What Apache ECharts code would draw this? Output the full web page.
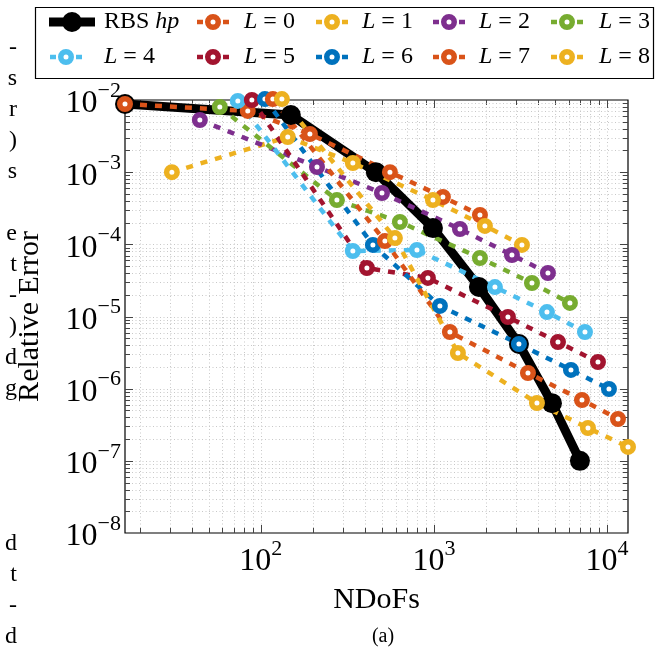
<!DOCTYPE html>
<html><head><meta charset="utf-8">
<script src="https://cdn.jsdelivr.net/npm/echarts@6/dist/echarts.min.js"></script>
<style>html,body{margin:0;padding:0;background:#fff}#c{width:668px;height:654px}</style>
</head><body><div id="c"></div>
<script>
// ---------------- data ----------------
const seriesNames = ['RBS hp', 'L = 0', 'L = 1', 'L = 2', 'L = 3', 'L = 4', 'L = 5', 'L = 6', 'L = 7', 'L = 8'];
const rbsX = [16.4, 149, 462, 987, 1820, 3100, 4810, 6980];
const rbsY = [8.8e-3, 6.2e-3, 1.0e-3, 1.68e-4, 2.56e-5, 4.16e-6, 6.3e-7, 1.0e-7];
const l0X = [16.4, 84, 192, 557, 1127, 1845];
const l0Y = [8.8e-3, 7.05e-3, 3.38e-3, 1.0e-3, 4.53e-4, 2.55e-4];
const l1X = [30.6, 143, 340, 987, 1971, 3226];
const l1Y = [1.0e-3, 3.07e-3, 1.34e-3, 4.11e-4, 1.80e-4, 9.8e-5];
const l2X = [44.4, 211, 501, 1414, 2824, 4560];
const l2Y = [5.28e-3, 1.18e-3, 5.14e-4, 1.63e-4, 7.12e-5, 4.01e-5];
const l3X = [57.9, 275, 636, 1845, 3686, 6110];
const l3Y = [8.0e-3, 4.11e-4, 2.04e-4, 6.47e-5, 2.91e-5, 1.54e-5];
const l4X = [73.6, 340, 798, 2252, 4500, 7462];
const l4Y = [9.7e-3, 8.09e-5, 8.35e-5, 2.56e-5, 1.15e-5, 6.10e-6];
const l5X = [88.7, 410, 923, 2677, 5211, 8872];
const l5Y = [1.0e-2, 4.70e-5, 3.42e-5, 9.84e-6, 4.43e-6, 2.34e-6];
const l6X = [105.5, 444, 1083, 3099, 6194, 10270];
const l6Y = [1.03e-2, 9.8e-5, 1.40e-5, 4.16e-6, 1.82e-6, 9.9e-7];
const l7X = [117.3, 521, 1237, 3495, 7170, 11580];
const l7Y = [1.03e-2, 1.11e-4, 6.10e-6, 1.65e-6, 6.97e-7, 3.80e-7];
const l8X = [132.3, 595, 1376, 3939, 7767, 13230];
const l8Y = [1.03e-2, 1.22e-4, 3.12e-6, 6.33e-7, 2.85e-7, 1.56e-7];

// tick labels (powers of ten) and minor multipliers
const xDecades = [1, 2, 3, 4];
const yDecades = [-8, -7, -6, -5, -4, -3, -2];
const minorMultipliers = [2, 3, 4, 5, 6, 7, 8, 9];
const yMin = 1e-8, yMax = 1e-2;

// left-margin text fragments of the surrounding page
const pageFragments = ['-', 's', 'r', ')', 's', 'e', 't', '-', ')', 'd', 'g', 'd', 't', '-', 'd'];

// ---------------- styles / layout ----------------
const FONT = '"Liberation Serif", "Times New Roman", serif';
const colors = ['#000000', '#D95319', '#EDB120', '#7E2F8E', '#77AC30', '#4DBEEE', '#A2142F', '#0072BD', '#D95319', '#EDB120'];
const xs = [rbsX, l0X, l1X, l2X, l3X, l4X, l5X, l6X, l7X, l8X];
const ys = [rbsY, l0Y, l1Y, l2Y, l3Y, l4Y, l5Y, l6Y, l7Y, l8Y];

const allX = [].concat(...xs);
const xMin = Math.min(...allX), xMax = Math.max(...allX);

const fragmentY = [48, 79, 110, 141, 172, 234, 265, 296, 327, 358, 389, 544, 575, 606, 637];
// legend layout: [ring/marker centre x, row, text start x]
const legendLayout = [[72, 0, 104], [213, 0, 244], [332, 0, 362], [449, 0, 479], [567, 0, 599],
                      [66, 1, 104], [213, 1, 244], [332, 1, 362], [449, 1, 479], [567, 1, 599]];
const rowCenter = [23, 58];

const ringIcon = 'path://M0,5.75H6V10.25H0Z M26,5.75H32V10.25H26Z M16,0A8,8 0 1,1 16,16A8,8 0 1,1 16,0Z M16,5.5A2.5,2.5 0 1,0 16,10.5A2.5,2.5 0 1,0 16,5.5Z';
const rbsIcon = 'path://M0,5.5H46V14.5H0Z M23,0A10,10 0 1,1 23,20A10,10 0 1,1 23,0Z';

// ---------------- build series ----------------
const dataSeries = seriesNames.map((name, i) => {
  const data = xs[i].map((x, j) => [x, ys[i][j]]);
  if (i === 0) {
    return { name, type: 'line', data, clip: false, symbol: 'circle', symbolSize: 20,
      lineStyle: { color: '#000', width: 9 }, itemStyle: { color: '#000' }, z: 3 };
  }
  return { name, type: 'line', data, clip: false, symbol: 'circle', symbolSize: 10.5,
    lineStyle: { color: colors[i], width: 4.5, type: [7, 8] },
    itemStyle: { color: '#ffffff', borderColor: colors[i], borderWidth: 5.5 }, z: 3 };
});

const xGridData = [];
xDecades.forEach(e => [1].concat(minorMultipliers).forEach(m => {
  const v = m * Math.pow(10, e);
  if (v > xMin * 1.0001 && v < xMax * 0.9999) xGridData.push([v, 1e-5, m === 1 ? 1 : 0]);
}));
const yGridData = [];
yDecades.forEach(e => [1].concat(minorMultipliers).forEach(m => {
  const v = m * Math.pow(10, e);
  if (v > yMin * 1.0001 && v < yMax * 0.9999) yGridData.push([1000, v, m === 1 ? 1 : 0]);
}));

const gridStyle = { stroke: '#c8c8c8', lineWidth: 1, lineDash: [1, 2.5] };
const tickStyle = { stroke: '#444', lineWidth: 1 };

const xGridSeries = {
  type: 'custom', data: xGridData, silent: true, z: 1,
  renderItem: (params, api) => {
    const cs = params.coordSys;
    const p = api.coord([api.value(0), api.value(1)]);
    const x = Math.round(p[0]) + 0.5;
    const len = api.value(2) === 1 ? 8 : 5;
    const top = cs.y, bot = cs.y + cs.height;
    return { type: 'group', children: [
      { type: 'line', shape: { x1: x, y1: top, x2: x, y2: bot }, style: gridStyle },
      { type: 'line', shape: { x1: x, y1: bot, x2: x, y2: bot - len }, style: tickStyle },
      { type: 'line', shape: { x1: x, y1: top, x2: x, y2: top + len }, style: tickStyle }
    ]};
  }
};
const yGridSeries = {
  type: 'custom', data: yGridData, silent: true, z: 1,
  renderItem: (params, api) => {
    const cs = params.coordSys;
    const p = api.coord([api.value(0), api.value(1)]);
    const y = Math.round(p[1]) + 0.5;
    const len = api.value(2) === 1 ? 8 : 5;
    const l = cs.x, r = cs.x + cs.width;
    return { type: 'group', children: [
      { type: 'line', shape: { x1: l, y1: y, x2: r, y2: y }, style: gridStyle },
      { type: 'line', shape: { x1: l, y1: y, x2: l + len, y2: y }, style: tickStyle },
      { type: 'line', shape: { x1: r, y1: y, x2: r - len, y2: y }, style: tickStyle }
    ]};
  }
};

function powLabel(v) {
  const e = Math.log10(v);
  const r = Math.round(e);
  if (Math.abs(e - r) > 1e-6) return '';
  return '{b|10}{s|' + (r < 0 ? '\u2212' + (-r) : String(r)) + '}';
}
const labelRich = {
  b: { fontFamily: FONT, fontSize: 32, color: '#000', lineHeight: 40, verticalAlign: 'bottom' },
  s: { fontFamily: FONT, fontSize: 22, color: '#000', lineHeight: 22, verticalAlign: 'top' }
};

const legends = seriesNames.map((name, i) => {
  const [cx, row, tx] = legendLayout[i];
  const isRbs = i === 0;
  const w = isRbs ? 46 : 32, h = isRbs ? 20 : 16;
  const left = cx - w / 2;
  const pad = tx - (left + w + 5);
  return {
    data: [{ name, icon: isRbs ? rbsIcon : ringIcon, itemStyle: { color: colors[i], borderWidth: 0 } }],
    left, top: rowCenter[row] - 13, padding: 0, itemWidth: w, itemHeight: h,
    selectedMode: false, itemStyle: { color: colors[i], borderWidth: 0 },
    formatter: n => n.indexOf('L') === 0 ? '{i|L} = ' + n.slice(4) : 'RBS {i|hp}',
    textStyle: { fontFamily: FONT, fontSize: 24, color: '#000', padding: [0, 0, 0, pad],
      rich: { i: { fontFamily: FONT, fontStyle: 'italic', fontSize: 24, color: '#000' } } }
  };
});

const graphics = [
  { type: 'rect', shape: { x: 35.5, y: 7.5, width: 618, height: 71 }, style: { fill: '#fff', stroke: '#000', lineWidth: 1.2 }, z: 0 },
  { type: 'text', x: 383, y: 637, style: { text: '(a)', font: '20px ' + FONT, fill: '#000', align: 'center', verticalAlign: 'middle', textAlign: 'center', textVerticalAlign: 'middle' } }
].concat(pageFragments.map((t, k) => ({
  type: 'text', x: 17, y: fragmentY[k],
  style: { text: t, font: '24px ' + FONT, fill: '#000', align: 'right', verticalAlign: 'middle', textAlign: 'right', textVerticalAlign: 'middle' }
})));

const chart = echarts.init(document.getElementById('c'), null, { renderer: 'canvas' });
chart.setOption({
  animation: false,
  backgroundColor: '#fff',
  grid: { left: 125, top: 100, right: 40, bottom: 121, show: true, borderColor: '#000', borderWidth: 1.2, backgroundColor: 'rgba(0,0,0,0)' },
  legend: legends,
  graphic: graphics,
  xAxis: {
    type: 'log', logBase: 10, min: xMin, max: xMax, splitNumber: 5,
    axisLine: { show: false }, axisTick: { show: false }, splitLine: { show: false },
    axisLabel: { formatter: powLabel, margin: 5, rich: labelRich, showMinLabel: false, showMaxLabel: true },
    name: 'NDoFs', nameLocation: 'middle', nameGap: 52,
    nameTextStyle: { fontFamily: FONT, fontSize: 30, color: '#000' }
  },
  yAxis: {
    type: 'log', logBase: 10, min: yMin, max: yMax, splitNumber: 6,
    axisLine: { show: false }, axisTick: { show: false }, splitLine: { show: false },
    axisLabel: { formatter: powLabel, margin: 4, rich: labelRich },
    name: 'Relative Error', nameLocation: 'middle', nameGap: 80,
    nameTextStyle: { fontFamily: FONT, fontSize: 30, color: '#000' }
  },
  series: [xGridSeries, yGridSeries].concat(dataSeries)
});
</script></body></html>
